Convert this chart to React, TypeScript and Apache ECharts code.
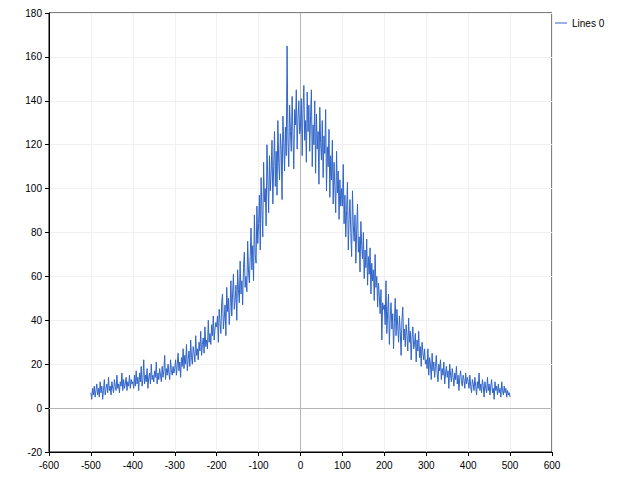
import React, { useEffect, useRef } from "react";
import * as echarts from "echarts";

// Series values, x step 2, each segment starts at its own x
const segA = { start: -500, values: [7,4,9,6,10,5,8,11,6,9,5,12,7,10,4,8,13,6,9,11,7,14,8,10,6,12,9,7,13,10,8,15,9,11,7,12,10,16,8,13,9,11,14,8,12,10,15,9,13,11] };
const segB = { start: -400, values: [12,9,15,10,17,11,14,8,16,12,19,10,13,22,11,15,12,18,9,14,16,11,20,13,15,12,17,14,21,11,16,13,18,15,12,19,14,17,24,13,18,15,20,16,13,22,17,15,19,16] };
const segC = { start: -300, values: [18,22,15,20,25,17,21,14,23,19,27,18,24,20,29,17,22,26,19,31,23,20,28,25,21,33,24,27,22,30,26,35,24,29,32,25,37,28,31,27,40,30,34,29,38,33,42,31,36,39] };
const segD = { start: -200, values: [37,42,30,45,39,34,48,52,36,41,47,33,55,44,50,38,46,58,42,52,61,45,49,56,40,63,54,48,67,52,58,47,64,71,55,60,53,76,62,57,69,82,63,74,58,88,70,66,92,75] };
const segE = { start: -100, values: [84,97,72,105,90,78,112,94,100,83,120,104,89,115,99,108,122,93,110,126,101,117,97,131,112,104,125,118,95,133,121,108,128,115,165,122,110,138,126,117,142,124,109,136,129,145,118,132,140,125] };
const segF = { start: 0, values: [128,141,115,136,147,122,131,112,144,126,138,117,133,145,110,129,120,140,107,134,118,126,102,137,121,113,131,105,124,116,136,99,119,110,127,96,115,104,122,93,112,101,89,117,98,108,86,104,92,100] };
const segG = { start: 100, values: [92,111,84,97,78,90,103,72,86,95,80,69,99,83,76,88,66,81,93,71,78,62,85,74,68,80,59,72,64,77,56,69,61,73,52,66,58,63,49,70,55,60,46,57,51,43,54,31,48,45] };
const segH = { start: 200, values: [47,38,58,34,44,52,29,41,48,36,43,27,39,50,33,45,37,30,42,35,24,40,46,31,36,28,38,33,26,41,30,35,22,32,37,27,29,34,21,31,26,35,23,28,19,30,25,22,27,20] };
const segI = { start: 300, values: [22,18,27,15,23,20,13,25,17,21,14,19,24,16,12,20,17,22,13,18,15,21,11,16,19,14,17,9,20,15,12,18,14,10,16,13,19,11,15,8,14,17,12,10,15,13,9,16,11,14] };
const segJ = { start: 400, values: [12,9,15,10,7,13,11,8,14,10,6,12,9,16,8,11,7,13,10,5,12,9,7,14,8,11,6,10,13,7,9,4,12,8,10,6,11,7,9,5,12,8,6,10,7,9,5,8,6,7,5] };
const xStep = 2;

const seriesName = "Lines 0";
const xRange = { min: -600, max: 600, interval: 100 };
const yRange = { min: -20, max: 180, interval: 20 };

const segments = [segA, segB, segC, segD, segE, segF, segG, segH, segI, segJ];

export default function App() {
  const ref = useRef<HTMLDivElement>(null);
  useEffect(() => {
    document.body.style.margin = "0";
    if (!ref.current) return;
    const chart = echarts.init(ref.current, null, { renderer: "svg" });
    const data: number[][] = [];
    segments.forEach((s) => s.values.forEach((v, j) => data.push([s.start + j * xStep, v])));
    const font = "Liberation Sans";
    chart.setOption({
      animation: false,
      backgroundColor: "#ffffff",
      grid: { left: 49, right: 88, top: 13, bottom: 28, show: true, borderColor: "#000", borderWidth: 1, backgroundColor: "transparent" },
      legend: {
        left: 550,
        top: 13,
        data: [{ name: seriesName, icon: "rect" }],
        itemWidth: 12,
        itemHeight: 1,
        textStyle: { color: "#000", fontSize: 10, fontFamily: font },
      },
      xAxis: {
        type: "value",
        min: xRange.min,
        max: xRange.max,
        interval: xRange.interval,
        axisLine: { show: true, onZero: false, lineStyle: { color: "#000", width: 1 } },
        axisTick: { show: true, length: 4, lineStyle: { color: "#000" } },
        axisLabel: { color: "#000", fontSize: 10, fontFamily: font, margin: 8 },
        splitLine: { show: true, lineStyle: { color: "#f0f0f0", width: 1 } },
      },
      yAxis: {
        type: "value",
        min: yRange.min,
        max: yRange.max,
        interval: yRange.interval,
        axisLine: { show: true, onZero: false, lineStyle: { color: "#000", width: 1 } },
        axisTick: { show: true, length: 4, lineStyle: { color: "#000" } },
        axisLabel: { color: "#000", fontSize: 10, fontFamily: font, margin: 7 },
        splitLine: { show: true, lineStyle: { color: "#f0f0f0", width: 1 } },
      },
      series: [
        {
          name: seriesName,
          type: "line",
          data,
          showSymbol: false,
          symbol: "none",
          itemStyle: { color: "#3064c8" },
          lineStyle: { color: "#3064c8", width: 1 },
          markLine: {
            silent: true,
            symbol: "none",
            label: { show: false },
            lineStyle: { color: "#b4b4b4", width: 1, type: "solid" },
            data: [{ xAxis: 0 }, { yAxis: 0 }],
            z: 1,
          },
        },
      ],
    });
    return () => chart.dispose();
  }, []);
  return <div ref={ref} style={{ width: 640, height: 480 }} />;
}
